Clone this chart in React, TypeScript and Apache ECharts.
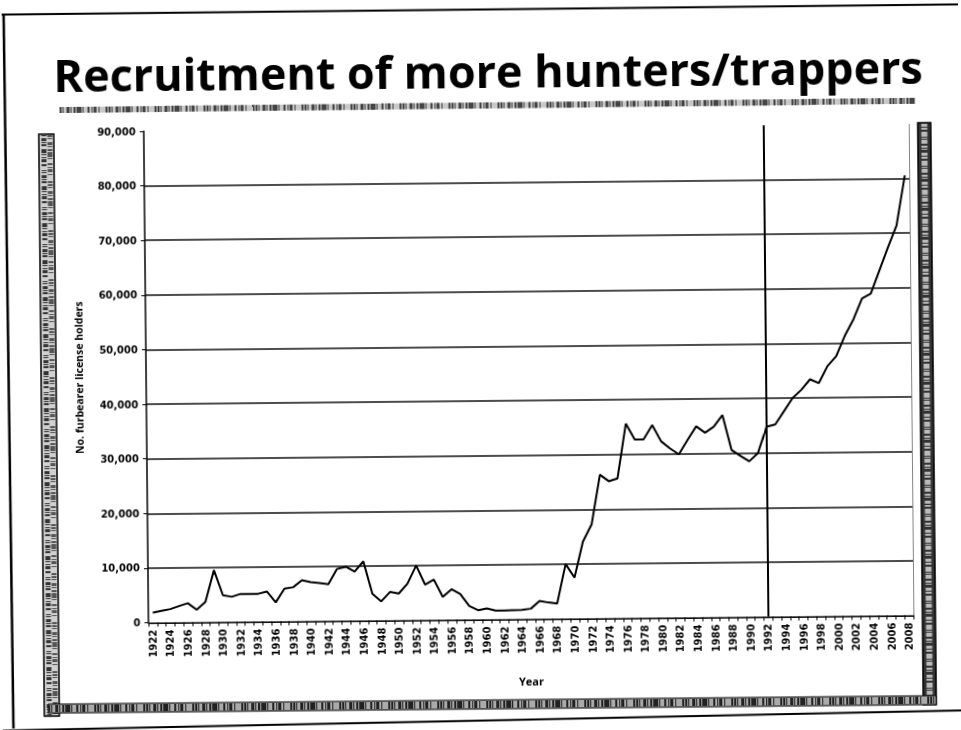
import React, { useEffect, useRef } from "react";
import * as echarts from "echarts";

const titleText = "Recruitment of more hunters/trappers";
const yAxisTitle = "No. furbearer license holders";
const xAxisTitle = "Year";
const markerYear = "1992";

const years: string[] = [
  "1922", "1923", "1924", "1925", "1926", "1927", "1928", "1929", "1930", "1931",
  "1932", "1933", "1934", "1935", "1936", "1937", "1938", "1939", "1940", "1941",
  "1942", "1943", "1944", "1945", "1946", "1947", "1948", "1949", "1950", "1951",
  "1952", "1953", "1954", "1955", "1956", "1957", "1958", "1959", "1960", "1961",
  "1962", "1963", "1964", "1965", "1966", "1967", "1968", "1969", "1970", "1971",
  "1972", "1973", "1974", "1975", "1976", "1977", "1978", "1979", "1980", "1981",
  "1982", "1983", "1984", "1985", "1986", "1987", "1988", "1989", "1990", "1991",
  "1992", "1993", "1994", "1995", "1996", "1997", "1998", "1999", "2000", "2001",
  "2002", "2003", "2004", "2005", "2006", "2007", "2008",
];

const licenseHolders: number[] = [
  1850, 2150, 2450, 3000, 3500, 2300, 3700, 9500, 4900, 4600,
  5100, 5100, 5100, 5500, 3500, 6000, 6250, 7500, 7150, 6950,
  6750, 9500, 9900, 9000, 10850, 4900, 3500, 5200, 4900, 6700,
  10000, 6500, 7400, 4200, 5600, 4700, 2500, 1700, 2000, 1600,
  1600, 1650, 1700, 1900, 3300, 3000, 2800, 10000, 7500, 14100,
  17200, 26300, 25100, 25600, 35600, 32700, 32700, 35300, 32300, 31000,
  29900, 32500, 35000, 33800, 34900, 37000, 30600, 29500, 28500, 30000,
  34800, 35200, 37600, 40000, 41500, 43400, 42700, 45800, 47600, 51300,
  54300, 58100, 59000, 63200, 67400, 71400, 80600,
];

const yMin = 0;
const yMax = 90000;
const yInterval = 10000;

const labelFont = "DejaVu Sans";
const nameFont = "Open Sans";
const titleFont = "Open Sans";

export default function App() {
  const ref = useRef<HTMLDivElement>(null);

  useEffect(() => {
    if (!ref.current) return;
    const chart = echarts.init(ref.current, null, { renderer: "svg" });

    const speckA = [2, 1, 1, 3, 3, 1, 1, 2, 2, 1, 5, 1, 1, 4, 2, 2, 1, 1, 3, 2, 1, 6, 2, 1];
    const speckB = [1, 2, 3, 1, 1, 1, 2, 3, 4, 1, 1, 2, 1, 1, 3, 2, 2, 4, 1, 1];
    const speckC = [3, 1, 2, 2, 5, 1, 1, 1, 4, 2, 2, 1, 1, 3];

    const option: any = {
      animation: false,
      backgroundColor: "#ffffff",
      grid: { left: 146, right: 50, top: 128, bottom: 110.5, containLabel: false },
      xAxis: [
        {
          type: "category",
          data: years,
          boundaryGap: true,
          axisLine: { show: true, lineStyle: { color: "#000", width: 1.5 } },
          axisTick: { show: true, interval: 0, length: 4, lineStyle: { color: "#000", width: 1 } },
          axisLabel: {
            interval: 1,
            rotate: 90,
            margin: 7,
            fontFamily: labelFont,
            fontWeight: "bold",
            fontSize: 10,
            color: "#000",
          },
          splitLine: { show: false },
          name: xAxisTitle,
          nameLocation: "middle",
          nameGap: 56,
          nameTextStyle: { fontFamily: nameFont, fontWeight: "bold", fontSize: 11, color: "#000" },
        },
        {
          type: "category",
          data: years,
          position: "top",
          axisLine: { show: true, lineStyle: { color: "#777", width: 1, type: "dotted" } },
          axisTick: { show: false },
          axisLabel: { show: false },
          splitLine: { show: false },
        },
      ],
      yAxis: [
        {
          type: "value",
          min: yMin,
          max: yMax,
          interval: yInterval,
          axisLine: { show: true, lineStyle: { color: "#000", width: 1.5 } },
          axisTick: { show: true, length: 4, lineStyle: { color: "#000", width: 1 } },
          axisLabel: {
            margin: 8,
            fontFamily: labelFont,
            fontWeight: "bold",
            fontSize: 10,
            color: "#000",
            formatter: (v: number) => v.toLocaleString("en-US"),
          },
          splitLine: {
            show: true,
            lineStyle: {
              color: ["#000", "#111", "#111", "#111", "#111", "#111", "#111", "#111", "#111", "rgba(0,0,0,0)"],
              width: 1.5,
            },
          },
          name: yAxisTitle,
          nameLocation: "middle",
          nameRotate: 90,
          nameGap: 62,
          nameTextStyle: { fontFamily: nameFont, fontWeight: "bold", fontSize: 10.5, color: "#000" },
        },
        {
          type: "value",
          min: yMin,
          max: yMax,
          interval: yInterval,
          position: "right",
          axisLine: { show: true, lineStyle: { color: "#777", width: 1, type: "dotted" } },
          axisTick: { show: false },
          axisLabel: { show: false },
          splitLine: { show: false },
        },
      ],
      series: [
        {
          type: "line",
          data: licenseHolders,
          symbol: "none",
          lineStyle: { color: "#000", width: 2 },
          markLine: {
            silent: true,
            symbol: ["none", "none"],
            label: { show: false },
            lineStyle: { color: "#000", width: 2, type: "solid" },
            data: [{ xAxis: markerYear }],
          },
        },
      ],
      graphic: [
        // title
        {
          type: "text",
          x: 491,
          y: 71,
          scaleX: 1.02,
          style: {
            x: 0,
            y: 0,
            text: titleText,
            fill: "#000",
            font: `bold 44px "${titleFont}"`,
            align: "center",
            verticalAlign: "middle",
            textAlign: "center",
            textVerticalAlign: "middle",
          },
        },
        // outer frame
        { type: "line", shape: { x1: 5, y1: 10, x2: 961, y2: 9 }, style: { stroke: "#000", lineWidth: 2 } },
        { type: "line", shape: { x1: 7, y1: 10, x2: 10, y2: 724 }, style: { stroke: "#000", lineWidth: 2.5 } },
        { type: "line", shape: { x1: 0, y1: 726, x2: 961, y2: 715 }, style: { stroke: "#000", lineWidth: 2 } },
        // scanned strip under title
        { type: "line", shape: { x1: 62, y1: 106, x2: 918, y2: 105 }, style: { stroke: "#c8c8c8", lineWidth: 6 } },
        { type: "line", shape: { x1: 62, y1: 106, x2: 918, y2: 105 }, style: { stroke: "#444", lineWidth: 6, lineDash: speckA } },
        // left band
        { type: "rect", shape: { x: 41, y: 130, width: 15, height: 582 }, style: { fill: "#d0d0d0", stroke: "#000", lineWidth: 1.5 } },
        { type: "line", shape: { x1: 46, y1: 131, x2: 46, y2: 711 }, style: { stroke: "#333", lineWidth: 5, lineDash: speckB } },
        { type: "line", shape: { x1: 52, y1: 131, x2: 52, y2: 711 }, style: { stroke: "#555", lineWidth: 5, lineDash: speckA } },
        // right band
        { type: "rect", shape: { x: 920, y: 127, width: 13, height: 582 }, style: { fill: "#333", stroke: "#000", lineWidth: 1.5 } },
        { type: "line", shape: { x1: 926.5, y1: 128, x2: 926.5, y2: 708 }, style: { stroke: "#bbb", lineWidth: 6, lineDash: speckC } },
        // bottom band
        { type: "rect", shape: { x: 45, y: 700, width: 888, height: 9 }, style: { fill: "#aaa", stroke: "#000", lineWidth: 1 } },
        { type: "line", shape: { x1: 45, y1: 704.5, x2: 933, y2: 704.5 }, style: { stroke: "#222", lineWidth: 7, lineDash: speckA } },
      ],
    };

    chart.setOption(option);
    return () => chart.dispose();
  }, []);

  return (
    <div
      ref={ref}
      style={{
        position: "fixed",
        left: 0,
        top: 0,
        width: 961,
        height: 730,
        transform: "rotate(-0.55deg)",
        background: "#fff",
      }}
    />
  );
}
